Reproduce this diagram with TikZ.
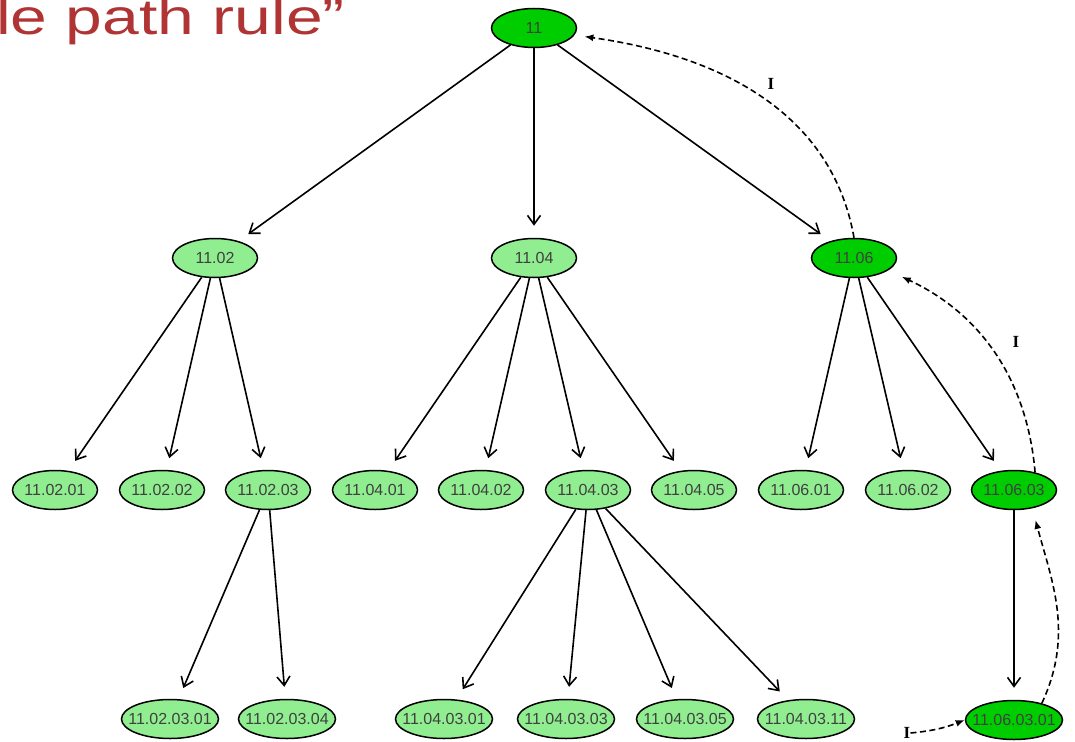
\documentclass[tikz,border=0pt]{standalone}
\usepackage{fontspec}
\setmainfont{Liberation Sans}
\newfontfamily\tagfont{Liberation Serif}
\usetikzlibrary{shapes.geometric,arrows.meta}
\definecolor{paleleaf}{RGB}{144,238,144}
\definecolor{deepleaf}{RGB}{0,205,0}
\definecolor{titlered}{RGB}{176,52,52}
% label that does not widen its ellipse
\newcommand{\lbl}[1]{\makebox[0pt]{#1}}
\tikzset{
  leaf/.style={ellipse,draw,line width=1.5pt,fill=paleleaf,minimum width=85pt,
    minimum height=39pt,inner sep=0pt,font=\fontsize{16}{16}\selectfont,text=black!75},
  onpath/.style={leaf,fill=deepleaf},
  longname/.style={minimum width=97pt},
  child/.style={line width=1.6pt,-{Straight Barb[length=9pt,width=13pt]},shorten >=12pt},
  backlink/.style={line width=1.6pt,dash pattern=on 6pt off 3.5pt,
    -{Latex[length=9pt,width=7pt]}},
  tagtext/.style={font=\tagfont\bfseries\fontsize{17}{17}\selectfont,inner sep=0pt}
}
\begin{document}
\begin{tikzpicture}[x=1pt,y=1pt]
  \useasboundingbox (0,0) rectangle (1075,-741);
  % slide title, cut off at the left
  \node[anchor=base west,inner sep=0pt,text=titlered,font=\fontsize{50}{50}\selectfont,
    xscale=1.32,transform shape] (title) at (-4,-35) {le path rule”};

  % level 1 and 2
  \node[onpath] (n11) at (534,-28) {\lbl{11}};
  \node[leaf] (n1102) at (215,-258) {\lbl{11.02}};
  \node[leaf] (n1104) at (534,-258) {\lbl{11.04}};
  \node[onpath] (n1106) at (854,-258) {\lbl{11.06}};

  % level 3
  \node[leaf] (n110201) at (55,-490) {\lbl{11.02.01}};
  \node[leaf] (n110202) at (162,-490) {\lbl{11.02.02}};
  \node[leaf] (n110203) at (268,-490) {\lbl{11.02.03}};
  \node[leaf] (n110401) at (375,-490) {\lbl{11.04.01}};
  \node[leaf] (n110402) at (481,-490) {\lbl{11.04.02}};
  \node[leaf] (n110403) at (588,-490) {\lbl{11.04.03}};
  \node[leaf] (n110405) at (694,-490) {\lbl{11.04.05}};
  \node[leaf] (n110601) at (801,-490) {\lbl{11.06.01}};
  \node[leaf] (n110602) at (908,-490) {\lbl{11.06.02}};
  \node[onpath] (n110603) at (1014,-490) {\lbl{11.06.03}};

  % level 4
  \node[leaf,longname] (n11020301) at (170,-719) {\lbl{11.02.03.01}};
  \node[leaf,longname] (n11020304) at (287,-719) {\lbl{11.02.03.04}};
  \node[leaf,longname] (n11040301) at (444,-719) {\lbl{11.04.03.01}};
  \node[leaf,longname] (n11040303) at (566,-719) {\lbl{11.04.03.03}};
  \node[leaf,longname] (n11040305) at (685,-719) {\lbl{11.04.03.05}};
  \node[leaf,longname] (n11040311) at (806,-719) {\lbl{11.04.03.11}};
  \node[onpath,longname] (n11060301) at (1014,-720) {\lbl{11.06.03.01}};

  % tree edges
  \draw[child] (n11) -- (n1102);
  \draw[child] (n11) -- (n1104);
  \draw[child] (n11) -- (n1106);
  \draw[child] (n1102) -- (n110201);
  \draw[child] (n1102) -- (n110202);
  \draw[child] (n1102) -- (n110203);
  \draw[child] (n1104) -- (n110401);
  \draw[child] (n1104) -- (n110402);
  \draw[child] (n1104) -- (n110403);
  \draw[child] (n1104) -- (n110405);
  \draw[child] (n1106) -- (n110601);
  \draw[child] (n1106) -- (n110602);
  \draw[child] (n1106) -- (n110603);
  \draw[child] (n110203) -- (n11020301);
  \draw[child] (n110203) -- (n11020304);
  \draw[child] (n110403) -- (n11040301);
  \draw[child] (n110403) -- (n11040303);
  \draw[child] (n110403) -- (n11040305);
  \draw[child] (n110403) -- (n11040311);
  \draw[child] (n110603) -- (n11060301);

  % the path back up
  \node[tagtext] (tagin) at (907,-733) {I};
  \node[tagtext] (tagtop) at (771,-84) {I};
  \node[tagtext] (tagmid) at (1016,-342) {I};
  \draw[backlink] (tagin.east) to[bend right=8] (n11060301.west);
  \draw[backlink,shorten >=12pt] (n11060301.31) to[out=65,in=-75] (n110603.-45);
  \draw[backlink,shorten >=15pt] (n110603.40) to[out=95,in=-25] (n1106.-20);
  \draw[backlink,shorten >=10pt] (n1106.north) to[out=100,in=-8] (n11.-10);
\end{tikzpicture}
\end{document}
